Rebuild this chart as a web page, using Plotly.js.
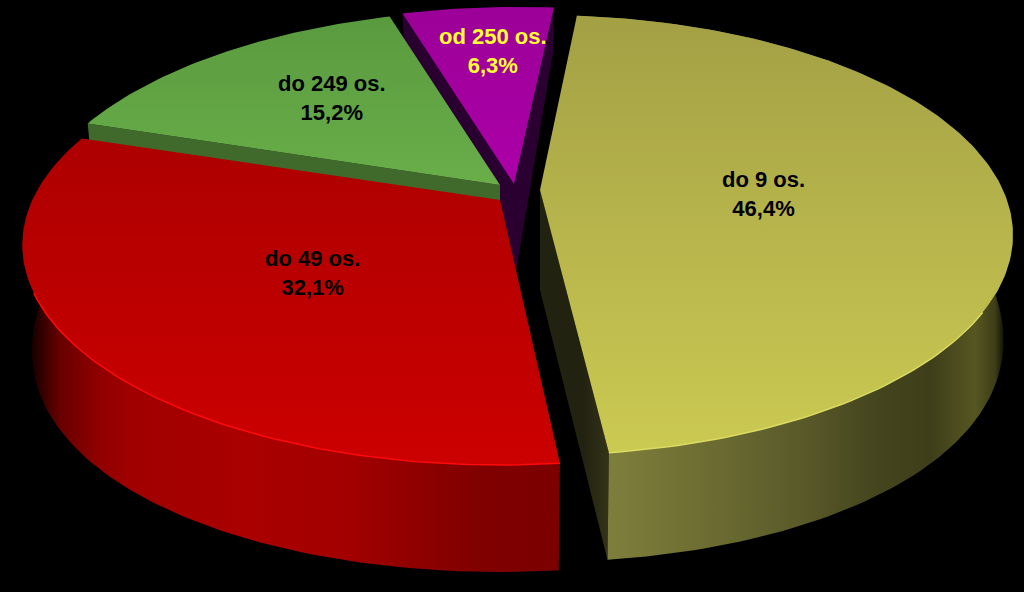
<!DOCTYPE html>
<html><head><meta charset="utf-8">
<script src="https://cdn.plot.ly/plotly-3.0.1.min.js"></script>
<style>html,body{margin:0;padding:0;background:#000}#c{width:1024px;height:592px}</style>
</head><body><div id="c"></div>
<script>
// ---- data
const categories = ["do 9 os.", "do 49 os.", "do 249 os.", "od 250 os."];
const shares = [46.4, 32.1, 15.2, 6.3];
// ---- label placement and colours
const labelX = [763, 312, 332, 493];
const labelY = [194, 273, 98, 51];
const labelColors = ["#000000", "#000000", "#000000", "#ffff33"];
// ---- exploded slice apex positions and small per-slice view corrections
const apexX = [540, 500, 500, 514];
const apexY = [190, 200, 185, 184];
const startTrim = [0, 1.6, 0, 0];
const endTrim = [-0.65, 0, 0, 0];
const widthScale = [1, 1.01, 1, 1];
const heightScale = [1, 1, 1, 1.012];
const shear = [0, 0, -0.024, -0.017];
const topScales = [
  [[0,"#a3a045"],[1,"#cbca52"]],
  [[0,"#ad0000"],[1,"#cc0000"]],
  [[0,"#5a9a3f"],[1,"#6ab04a"]],
  [[0,"#9c0098"],[1,"#ac00a8"]]
];
const topStops = [[15,455],[137,465],[15,200],[8,184]];
const wallScales = [
  [[0,"#7e7e3c"],[0.224,"#6e6e33"],[0.476,"#5a5a2a"],[0.678,"#44441e"],[0.804,"#3e3e1a"],[0.917,"#565622"],[0.967,"#3e3e18"],[0.992,"#0e0e04"],[1,"#040400"]],
  [[0,"#100000"],[0.02,"#300000"],[0.056,"#680000"],[0.13,"#900000"],[0.19,"#a00000"],[0.41,"#aa0000"],[0.6,"#a20000"],[0.75,"#8c0000"],[0.85,"#800000"],[1,"#7c0000"]],
  null,
  null
];
const wallStops = [[611,1008],[30,561],[0,1],[0,1]];
const cutScales = [
  [[0,"#222211"],[0.6,"#222211"],[1,"#36361a"]],
  null,
  [[0,"#3f6a2b"],[1,"#3f6a2b"]],
  [[0,"#2a0030"],[1,"#2a0030"]]
];
const cutStops = [[540,612],[0,1],[88,500],[402,556]];
const rimColors = ["#dcdc62", "#ff0a0a", null, null];
const rimFrom = [120, 90, 0, 0];
const drawOrder = [0, 3, 2, 1];

// ---- projection of the tilted disc
const startDeg = 5.5, A = 463, B = 210.8, K = 0.2045, SX = 0.98;
function proj(i, deg, base) {
  const t = deg * Math.PI / 180, w = 1 + K * Math.cos(t);
  const Y = -B * heightScale[i] * Math.cos(t) / w;
  const X = A * widthScale[i] * Math.sin(t) / w + shear[i] * Y;
  if (!base) return [apexX[i] + X, apexY[i] + Y];
  const v = -Math.cos(t);
  return [apexX[i] + X * SX, apexY[i] + Y + 100 + 31.5 * v - 24.5 * v * v];
}
const edges = [];
let cum = startDeg;
shares.forEach((s, i) => { edges.push([cum + startTrim[i], cum + s * 3.6 - endTrim[i]]); cum += s * 3.6; });
function arc(i, base) {
  const [a, b] = edges[i], pts = [];
  const n = Math.ceil(b - a);
  for (let k = 0; k <= n; k++) pts.push(proj(i, a + (b - a) * k / n, base));
  return pts;
}
function poly(pts, opts) {
  return Object.assign({
    type: "scatter", mode: "lines", hoverinfo: "skip", showlegend: false,
    x: pts.map(p => p[0]), y: pts.map(p => p[1]),
    fill: "toself", line: { width: 0 }
  }, opts);
}
const apexTop = i => [apexX[i], apexY[i]];
const apexBase = i => [apexX[i], apexY[i] + 100];
const traces = [];
drawOrder.forEach(i => {
  const [a, b] = edges[i];
  if (cutScales[i]) {
    const faces = i === 3 ? [a, b] : i === 0 ? [b] : [a];
    faces.forEach(d => traces.push(poly(
      [apexTop(i), proj(i, d, false), proj(i, d, true), apexBase(i)],
      { fillcolor: cutScales[i][0][1], fillgradient: { type: "horizontal", start: cutStops[i][0], stop: cutStops[i][1], colorscale: cutScales[i] } })));
  }
  if (wallScales[i]) {
    const pts = arc(i, false).concat(arc(i, true).reverse());
    traces.push(poly(pts, { fillcolor: "#000", fillgradient: {
      type: "horizontal", start: wallStops[i][0], stop: wallStops[i][1], colorscale: wallScales[i] } }));
  }
  traces.push(poly([apexTop(i)].concat(arc(i, false)), { fillcolor: topScales[i][1][1], fillgradient: {
    type: "vertical", start: topStops[i][0], stop: topStops[i][1], colorscale: topScales[i] } }));
  if (rimColors[i]) {
    const rim = arc(i, false).filter(p => p[1] > apexY[i] + rimFrom[i]);
    traces.push({ type: "scatter", mode: "lines", hoverinfo: "skip", showlegend: false,
      x: rim.map(p => p[0]), y: rim.map(p => p[1]), line: { color: rimColors[i], width: 1.5 } });
  }
});
const annotations = categories.map((c, i) => ({
  x: labelX[i], y: labelY[i], xref: "x", yref: "y", showarrow: false,
  text: c + "<br>" + shares[i].toFixed(1).replace(".", ",") + "%",
  align: "center",
  font: { family: "'Liberation Sans',Arial,sans-serif", size: 22, color: labelColors[i], weight: "bold" }
}));
const layout = {
  width: 1024, height: 592, margin: { l: 0, r: 0, t: 0, b: 0 },
  paper_bgcolor: "#000", plot_bgcolor: "#000", showlegend: false,
  xaxis: { range: [0, 1024], visible: false, fixedrange: true },
  yaxis: { range: [592, 0], visible: false, fixedrange: true },
  annotations
};
Plotly.newPlot("c", traces, layout, { displayModeBar: false, staticPlot: true });
</script></body></html>
